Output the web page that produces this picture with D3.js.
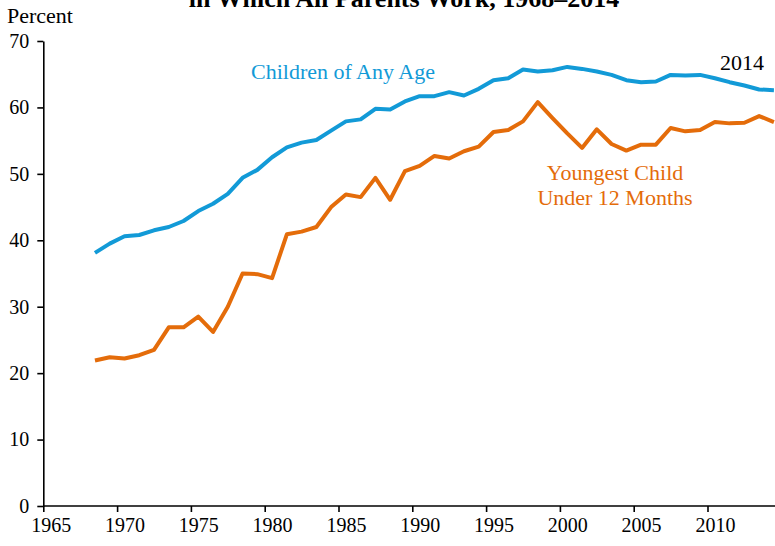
<!DOCTYPE html>
<html lang="en">
<head>
<meta charset="utf-8">
<script src="https://d3js.org/d3.v7.min.js"></script>
<style>
  body { margin: 0; background: #fff; }
  svg text { font-family: "Liberation Serif", "Times New Roman", serif; }
  .axis path, .axis line { stroke: #000; stroke-width: 1.6px; }
</style>
</head>
<body>
<svg width="775" height="546"></svg>
<script>
  // years 1968-2014, plotted at mid-year
  var years = d3.range(1968, 2015);
  var anyAge = [38.1, 39.5, 40.6, 40.8, 41.5, 42.0, 42.9, 44.4, 45.5, 47.0,
    49.4, 50.6, 52.5, 54.0, 54.7, 55.1, 56.5, 57.9, 58.2, 59.8,
    59.7, 60.9, 61.7, 61.7, 62.3, 61.8, 62.8, 64.1, 64.4, 65.7,
    65.4, 65.6, 66.1, 65.8, 65.4, 64.9, 64.1, 63.8, 63.9, 64.9,
    64.8, 64.9, 64.4, 63.8, 63.3, 62.7, 62.6];
  var under12 = [21.9, 22.4, 22.2, 22.7, 23.5, 26.9, 26.9, 28.5, 26.2, 30.0,
    35.0, 34.9, 34.3, 40.9, 41.3, 42.0, 45.0, 46.9, 46.5, 49.4,
    46.1, 50.4, 51.2, 52.7, 52.3, 53.4, 54.1, 56.3, 56.6, 57.9,
    60.8, 58.4, 56.1, 53.9, 56.7, 54.5, 53.5, 54.4, 54.4, 56.9,
    56.4, 56.6, 57.8, 57.6, 57.7, 58.7, 57.8];
  var xTicks = [1965, 1970, 1975, 1980, 1985, 1990, 1995, 2000, 2005, 2010];
  var yTicks = [0, 10, 20, 30, 40, 50, 60, 70];

  var svg = d3.select("svg");

  var x = d3.scaleLinear().domain([1965, 2015]).range([43.3, 781.3]);
  var y = d3.scaleLinear().domain([0, 70]).range([506, 41]);
  var half = x(1965.5) - x(1965);

  // title (cut off at the top of the frame)
  svg.append("text")
    .attr("x", 404)
    .attr("y", 7)
    .attr("text-anchor", "middle")
    .attr("font-weight", "bold")
    .attr("font-size", "26px")
    .text("in Which All Parents Work, 1968\u20132014");

  svg.append("text")
    .attr("x", 7)
    .attr("y", 23)
    .attr("font-size", "22px")
    .text("Percent");

  var xAxis = svg.append("g")
    .attr("class", "axis")
    .attr("transform", "translate(0,506)")
    .call(d3.axisBottom(x).tickValues(xTicks).tickFormat(d3.format("d")).tickSize(6).tickSizeOuter(0));
  xAxis.select(".domain").attr("d", "M43.3,0H775");
  xAxis.selectAll(".tick text")
    .attr("font-size", 20)
    .attr("x", half)
    .attr("y", 12);

  var yAxis = svg.append("g")
    .attr("class", "axis")
    .attr("transform", "translate(43.3,0)")
    .call(d3.axisLeft(y).tickValues(yTicks).tickSize(6).tickSizeOuter(0));
  yAxis.selectAll(".tick text")
    .attr("font-size", 20)
    .attr("x", -14);

  var line = d3.line()
    .x(function (d, i) { return x(years[i] + 0.5); })
    .y(function (d) { return y(d); });

  svg.append("path")
    .datum(under12)
    .attr("fill", "none")
    .attr("stroke", "#e46c0a")
    .attr("stroke-width", 4)
    .attr("stroke-linejoin", "round")
    .attr("d", line);

  svg.append("path")
    .datum(anyAge)
    .attr("fill", "none")
    .attr("stroke", "#129ad7")
    .attr("stroke-width", 4)
    .attr("stroke-linejoin", "round")
    .attr("d", line);

  svg.append("text")
    .attr("x", 251)
    .attr("y", 79)
    .attr("fill", "#129ad7")
    .attr("font-size", "22px")
    .text("Children of Any Age");

  svg.append("text")
    .attr("x", 720)
    .attr("y", 70)
    .attr("fill", "#000")
    .attr("font-size", "22px")
    .text("2014");

  svg.append("text")
    .attr("x", 615)
    .attr("y", 180)
    .attr("text-anchor", "middle")
    .attr("fill", "#e46c0a")
    .attr("font-size", "22px")
    .text("Youngest Child");

  svg.append("text")
    .attr("x", 615)
    .attr("y", 205)
    .attr("text-anchor", "middle")
    .attr("fill", "#e46c0a")
    .attr("font-size", "22px")
    .text("Under 12 Months");
</script>
</body>
</html>
